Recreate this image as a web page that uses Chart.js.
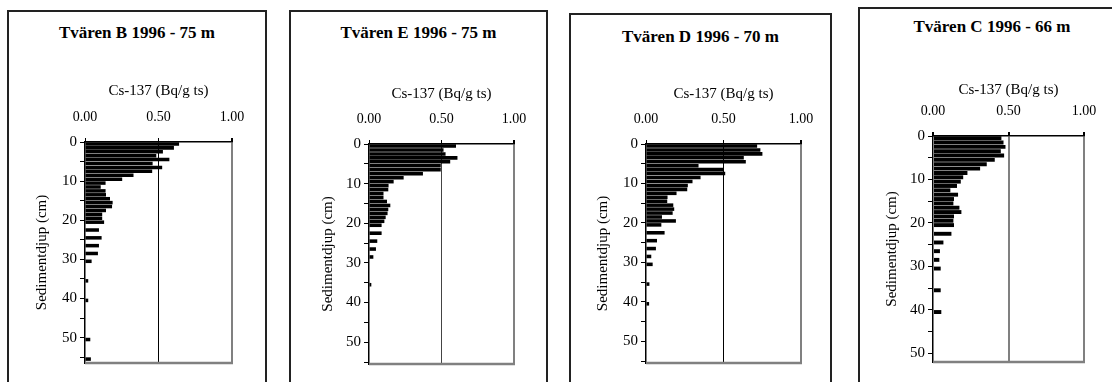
<!DOCTYPE html>
<html>
<head>
<meta charset="utf-8">
<script src="https://cdn.jsdelivr.net/npm/chart.js@4.4.0/dist/chart.umd.min.js"></script>
<style>
  body { margin: 0; background: #fff; width: 1112px; height: 382px; overflow: hidden; position: relative; }
  .box { position: absolute; border: 2px solid #222; box-sizing: border-box; }
  .box h2 { position: absolute; left: 0; right: 0; margin: 0; text-align: center;
            font: bold 17px "Liberation Serif", "Times New Roman", serif; line-height: 20px; color: #000; }
  .box canvas { position: absolute; left: -2px; top: -2px; }
</style>
</head>
<body>
<script>
// top of each 1 cm slice (cm) and Cs-137 activity (Bq/g ts)
const depthB = [0, 1, 2, 3, 4, 5, 6, 7, 8, 9, 10, 11, 12, 13, 14, 15, 16, 17, 18, 19, 20, 22, 24, 26, 28, 30, 35, 40, 50, 55];
const csB = [0.64, 0.605, 0.53, 0.485, 0.574, 0.46, 0.525, 0.457, 0.33, 0.253, 0.14, 0.107, 0.14, 0.143, 0.17,
  0.188, 0.184, 0.143, 0.117, 0.117, 0.13, 0.095, 0.113, 0.095, 0.088, 0.045, 0.022, 0.022, 0.036, 0.04];

const depthE = [0, 1, 2, 3, 4, 5, 6, 7, 8, 9, 10, 11, 12, 13, 14, 15, 16, 17, 18, 19, 20, 22, 24, 26, 28, 35];
const csE = [0.60, 0.514, 0.528, 0.61, 0.56, 0.495, 0.495, 0.372, 0.239, 0.17, 0.135, 0.133, 0.10, 0.10, 0.124,
  0.147, 0.133, 0.128, 0.115, 0.106, 0.087, 0.087, 0.057, 0.048, 0.03, 0.016];

const depthD = [0, 1, 2, 3, 4, 5, 6, 7, 8, 9, 10, 11, 12, 13, 14, 15, 16, 17, 18, 19, 20, 22, 24, 26, 28, 30, 35, 40];
const csD = [0.717, 0.738, 0.751, 0.631, 0.644, 0.339, 0.502, 0.511, 0.352, 0.30, 0.27, 0.266, 0.197, 0.139, 0.137,
  0.176, 0.182, 0.172, 0.103, 0.193, 0.099, 0.12, 0.071, 0.064, 0.034, 0.043, 0.022, 0.02];

const depthC = [0, 1, 2, 3, 4, 5, 6, 7, 8, 9, 10, 11, 12, 13, 14, 15, 16, 17, 18, 19, 20, 22, 24, 26, 28, 30, 35, 40];
const csC = [0.453, 0.467, 0.48, 0.449, 0.471, 0.409, 0.356, 0.312, 0.228, 0.20, 0.184, 0.159, 0.115, 0.166, 0.139,
  0.135, 0.175, 0.188, 0.139, 0.135, 0.139, 0.122, 0.069, 0.046, 0.042, 0.051, 0.051, 0.055];

const titles = ['Tvären B 1996 - 75 m', 'Tvären E 1996 - 75 m', 'Tvären D 1996 - 70 m', 'Tvären C 1996 - 66 m'];
const xTicks = [0, 0.5, 1];
const yTicks = [0, 5, 10, 15, 20, 25, 30, 35, 40, 45, 50, 55];
const xTitle = 'Cs-137 (Bq/g ts)';
const yTitle = 'Sedimentdjup (cm)';

// panel boxes and plot areas (px, relative to the box)
const panels = [
  { depth: depthB, vals: csB, yMax: 56.5, box: [7, 10, 260], plot: [78, 132, 225, 353], titleTop: 13, xTitlePad: 72, yTitlePad: 26, midLine: '#000', midWidth: 1 },
  { depth: depthE, vals: csE, yMax: 55.5, box: [289, 10, 259], plot: [80, 134, 225, 354], titleTop: 13, xTitlePad: 75, yTitlePad: 30, midLine: '#444', midWidth: 1 },
  { depth: depthD, vals: csD, yMax: 55.5, box: [569, 13, 263], plot: [77, 131, 232, 350], titleTop: 14, xTitlePad: 72, yTitlePad: 25, midLine: '#000', midWidth: 1 },
  { depth: depthC, vals: csC, yMax: 52, box: [858, 7, 268], plot: [75, 129, 226, 355], titleTop: 10, xTitlePad: 74, yTitlePad: 25, midLine: '#808080', midWidth: 2 },
];

const serif = '"Liberation Serif", "Times New Roman", serif';

// grey floor of the plot area, like the right-hand frame line
const plotFloor = {
  id: 'plotFloor',
  afterDraw(chart) {
    const { ctx, chartArea } = chart;
    ctx.save();
    ctx.strokeStyle = '#808080';
    ctx.lineWidth = 2.5;
    ctx.beginPath();
    ctx.moveTo(chartArea.left, chartArea.bottom);
    ctx.lineTo(chartArea.right + 1, chartArea.bottom);
    ctx.stroke();
    ctx.restore();
  },
};

panels.forEach((p, i) => {
  const [bx, by, bw] = p.box;
  const [pl, pt, pr, pb] = p.plot;
  const box = document.createElement('div');
  box.className = 'box';
  box.style.left = bx + 'px';
  box.style.top = by + 'px';
  box.style.width = bw + 'px';
  box.style.height = '420px';
  const h = document.createElement('h2');
  h.textContent = titles[i];
  h.style.top = (p.titleTop - 2) + 'px';
  box.appendChild(h);
  const cw = bw, ch = 382 - by + 10;
  const canvas = document.createElement('canvas');
  canvas.width = cw;
  canvas.height = ch;
  canvas.style.width = cw + 'px';
  canvas.style.height = ch + 'px';
  box.appendChild(canvas);
  document.body.appendChild(box);

  new Chart(canvas, {
    type: 'bar',
    data: {
      datasets: [{
        data: p.depth.map((d, k) => ({ x: p.vals[k], y: d + 0.5 })),
        backgroundColor: '#000',
        borderWidth: 0,
        barPercentage: 0.9,
        categoryPercentage: 1,
      }],
    },
    options: {
      indexAxis: 'y',
      responsive: false,
      animation: false,
      layout: { padding: { left: 0, top: 0, right: cw - pr, bottom: ch - pb } },
      plugins: { legend: { display: false }, tooltip: { enabled: false }, title: { display: false } },
      scales: {
        x: {
          type: 'linear',
          position: 'top',
          min: 0,
          max: 1,
          bounds: 'data',
          afterBuildTicks: (s) => { s.ticks = xTicks.map((v) => ({ value: v })); },
          afterFit: (s) => { s.height = pt; },
          ticks: { callback: (v) => Number(v).toFixed(2), color: '#000', font: { family: serif, size: 14 }, padding: 12, maxRotation: 0 },
          grid: {
            drawTicks: true,
            tickLength: 4,
            tickColor: '#000',
            color: (c) => (c.tick && c.tick.value === 0.5 ? p.midLine : c.tick && c.tick.value === 1 ? '#808080' : 'rgba(0,0,0,0)'),
            lineWidth: (c) => (c.tick && c.tick.value === 1 ? 2 : p.midWidth),
          },
          border: { color: '#000', width: 1.5 },
          title: { display: true, text: xTitle, color: '#000', font: { family: serif, size: 15 }, padding: { top: p.xTitlePad, bottom: 0 } },
        },
        y: {
          type: 'linear',
          reverse: true,
          offset: false,
          bounds: 'data',
          min: 0,
          max: p.yMax,
          afterBuildTicks: (s) => { s.ticks = yTicks.filter((v) => v <= p.yMax).map((v) => ({ value: v })); },
          afterFit: (s) => { s.width = pl; },
          ticks: {
            autoSkip: false,
            callback: (v) => (v % 10 === 0 ? String(v) : ''),
            color: '#000',
            font: { family: serif, size: 15 },
            padding: 3,
          },
          grid: { drawOnChartArea: false, drawTicks: true, tickLength: 5, tickColor: '#000', offset: false },
          border: { color: '#000', width: 1.5 },
          title: { display: true, text: yTitle, color: '#000', font: { family: serif, size: 15 }, padding: { top: p.yTitlePad, bottom: 0 } },
        },
      },
    },
    plugins: [plotFloor],
  });
});
</script>
</body>
</html>
